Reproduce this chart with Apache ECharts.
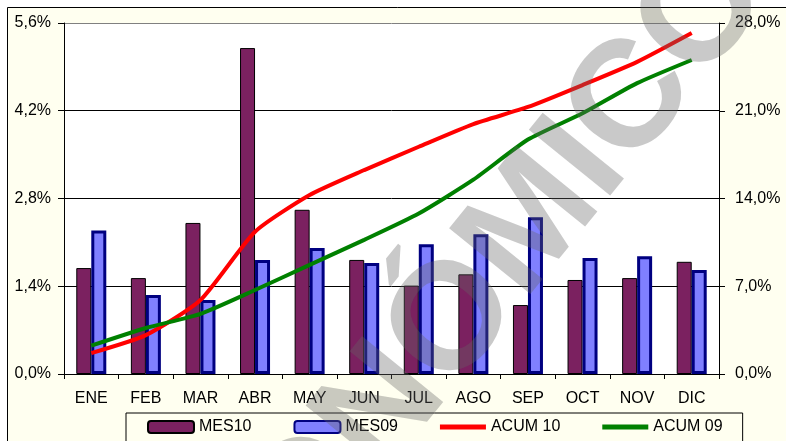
<!DOCTYPE html>
<html>
<head>
<meta charset="utf-8">
<script src="https://cdn.jsdelivr.net/npm/echarts@6/dist/echarts.min.js"></script>
<style>
  html, body { margin: 0; padding: 0; background: #fff; }
  #chart { width: 786px; height: 441px; }
</style>
</head>
<body>
<div id="chart"></div>
<script>
// datos
var meses = ["ENE", "FEB", "MAR", "ABR", "MAY", "JUN", "JUL", "AGO", "SEP", "OCT", "NOV", "DIC"];
var mes10 = [1.69, 1.53, 2.41, 5.2, 2.62, 1.82, 1.41, 1.59, 1.10, 1.50, 1.53, 1.79];
var mes09 = [2.29, 1.26, 1.18, 1.82, 2.01, 1.77, 2.07, 2.23, 2.50, 1.85, 1.88, 1.66];
var acum10 = [1.67, 3.1, 5.9, 11.35, 14.28, 16.27, 18.13, 19.94, 21.3, 23.05, 24.9, 27.2];
var acum09 = [2.26, 3.67, 4.8, 6.7, 8.7, 10.7, 12.8, 15.5, 18.7, 20.8, 23.2, 25.05];

var fuente = 'Arial, "Liberation Sans", sans-serif';
var iconoLinea = "path://M0,0 L46,0 L46,5 L0,5 Z";

function pct(v) {
  return v.toFixed(1).replace(".", ",") + "%";
}

var chart = echarts.init(document.getElementById("chart"), null, { renderer: "canvas" });

chart.setOption({
  animation: false,
  backgroundColor: "#fff",
  textStyle: { fontFamily: fuente },
  graphic: [
    {
      type: "rect",
      z: -10,
      shape: { x: 7.5, y: 7.5, width: 800, height: 450 },
      style: { fill: "#FFFFF0", stroke: "#000", lineWidth: 1 }
    },
    {
      // marca de agua
      type: "text",
      z: 100,
      x: 441,
      y: 338,
      rotation: 0.89,
      style: {
        text: "ECONÓMICO",
        font: "bold 152px " + fuente,
        fill: "rgba(100,100,100,0.35)",
        align: "center",
        verticalAlign: "middle"
      }
    }
  ],
  grid: {
    left: 64,
    right: 67,
    top: 23,
    bottom: 67,
    show: true,
    backgroundColor: "#fff",
    borderWidth: 0
  },
  legend: {
    left: 126,
    top: 413,
    padding: [6, 20, 12, 21],
    itemGap: 42,
    itemWidth: 46,
    itemHeight: 12,
    symbolKeepAspect: true,
    borderColor: "#000",
    borderWidth: 1,
    backgroundColor: "#FFFFF0",
    textStyle: { fontSize: 16, color: "#000", fontFamily: fuente },
    data: [
      { name: "MES10" },
      { name: "MES09" },
      { name: "ACUM 10", icon: iconoLinea },
      { name: "ACUM 09", icon: iconoLinea }
    ]
  },
  xAxis: {
    type: "category",
    data: meses,
    axisLine: { lineStyle: { color: "#000", width: 1 } },
    axisTick: { show: true, length: 5, lineStyle: { color: "#000" } },
    axisLabel: { color: "#000", fontSize: 16, margin: 17, fontFamily: fuente }
  },
  yAxis: [
    {
      type: "value",
      min: 0,
      max: 5.6,
      interval: 1.4,
      axisLine: { show: true, lineStyle: { color: "#000" } },
      axisTick: { show: true, length: 6, lineStyle: { color: "#000" } },
      axisLabel: { color: "#000", fontSize: 16, margin: 13, formatter: pct, fontFamily: fuente },
      splitLine: {
        show: true,
        lineStyle: { color: ["#000", "#000", "#000", "#000", "#808080"], width: 1 }
      }
    },
    {
      type: "value",
      min: 0,
      max: 28,
      interval: 7,
      axisLine: { show: true, lineStyle: { color: "#000" } },
      axisTick: { show: true, length: 6, lineStyle: { color: "#000" } },
      axisLabel: { color: "#000", fontSize: 16, margin: 16, formatter: pct, fontFamily: fuente },
      splitLine: { show: false }
    }
  ],
  series: [
    {
      name: "MES10",
      type: "bar",
      data: mes10,
      barWidth: 15,
      barGap: "0%",
      itemStyle: { color: "#7B2160", borderColor: "#000", borderWidth: 1 }
    },
    {
      name: "MES09",
      type: "bar",
      data: mes09,
      barWidth: 15,
      barGap: "0%",
      itemStyle: { color: "#8080FF", borderColor: "#000080", borderWidth: 3 }
    },
    {
      name: "ACUM 10",
      type: "line",
      yAxisIndex: 1,
      data: acum10,
      symbol: "none",
      smooth: 0.2,
      lineStyle: { color: "#FF0000", width: 4 },
      itemStyle: { color: "#FF0000" }
    },
    {
      name: "ACUM 09",
      type: "line",
      yAxisIndex: 1,
      data: acum09,
      symbol: "none",
      smooth: 0.2,
      lineStyle: { color: "#008000", width: 4 },
      itemStyle: { color: "#008000" }
    }
  ]
});
</script>
</body>
</html>
